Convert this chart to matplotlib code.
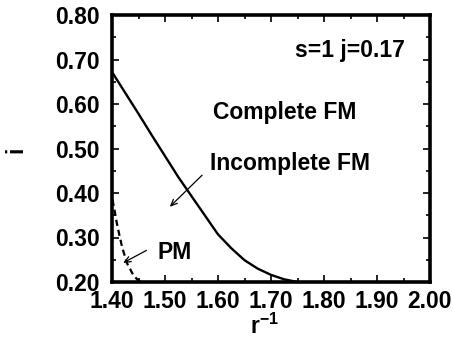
import matplotlib
matplotlib.use("Agg")
import matplotlib.pyplot as plt
from matplotlib.ticker import MultipleLocator

plt.rcParams['font.family'] = ['Liberation Sans', 'DejaVu Sans']
plt.rcParams['font.weight'] = 'bold'
plt.rcParams['mathtext.fontset'] = 'custom'
plt.rcParams['mathtext.rm'] = 'Liberation Sans:bold'
plt.rcParams['mathtext.default'] = 'rm'

# Boundary between complete and incomplete FM
fm_x = [1.40, 1.425, 1.45, 1.475, 1.50, 1.525, 1.55, 1.575, 1.60,
        1.625, 1.65, 1.675, 1.70, 1.725, 1.75]
fm_y = [0.672, 0.625, 0.578, 0.530, 0.483, 0.436, 0.393, 0.350, 0.307,
        0.276, 0.249, 0.230, 0.216, 0.206, 0.200]

# Boundary between incomplete FM and PM
pm_x = [1.401, 1.405, 1.409, 1.414, 1.419, 1.428, 1.440, 1.449, 1.456]
pm_y = [0.385, 0.360, 0.333, 0.305, 0.279, 0.243, 0.216, 0.204, 0.200]

xticks = [1.40, 1.50, 1.60, 1.70, 1.80, 1.90, 2.00]
yticks = [0.20, 0.30, 0.40, 0.50, 0.60, 0.70, 0.80]

FS = 16.5

fig = plt.figure(figsize=(4.53, 3.47), dpi=100)
ax = fig.add_axes([112/453, 1-282/347, (430-112)/453, (282-15)/347])

ax.plot(fm_x, fm_y, color='black', lw=1.7, solid_capstyle='butt')
ax.plot(pm_x, pm_y, color='black', lw=1.6, ls=(0, (2.8, 1.8)))

ax.set_xlim(1.40, 2.00)
ax.set_ylim(0.20, 0.80)
ax.set_xticks(xticks)
ax.set_yticks(yticks)
ax.set_xticklabels([f"{v:.2f}" for v in xticks])
ax.set_yticklabels([f"{v:.2f}" for v in yticks])
ax.xaxis.set_minor_locator(MultipleLocator(0.05))
ax.yaxis.set_minor_locator(MultipleLocator(0.05))
ax.tick_params(which='both', direction='in', top=True, right=True, width=1.2)
ax.tick_params(which='major', length=5, labelsize=FS)
ax.tick_params(axis='y', which='major', pad=9)
ax.tick_params(axis='x', which='major', pad=6)
ax.tick_params(which='minor', length=3)
for s in ax.spines.values():
    s.set_linewidth(2.6)

ax.set_xlabel(r"r$^{-1}$", fontsize=FS, fontweight='bold')
ax.xaxis.set_label_coords(0.481, -0.118)
ax.set_ylabel("i", fontsize=FS, fontweight='bold')
ax.yaxis.set_label_coords(-0.267, 0.494)

ax.text(1.953, 0.721, "s=1 j=0.17", fontsize=FS, ha='right', va='center')
ax.text(1.591, 0.582, "Complete FM", fontsize=FS, ha='left', va='center')
ax.text(1.585, 0.467, "Incomplete FM", fontsize=FS, ha='left', va='center')
ax.text(1.485, 0.267, "PM", fontsize=FS, ha='left', va='center')

arrow = dict(arrowstyle='->,head_length=0.45,head_width=0.2', color='black',
             lw=0.9, shrinkA=0, shrinkB=0)
ax.annotate("", xy=(1.509, 0.369), xytext=(1.570, 0.440), arrowprops=arrow)
ax.annotate("", xy=(1.421, 0.243), xytext=(1.465, 0.271), arrowprops=arrow)

fig.savefig("out.png", dpi=100)
